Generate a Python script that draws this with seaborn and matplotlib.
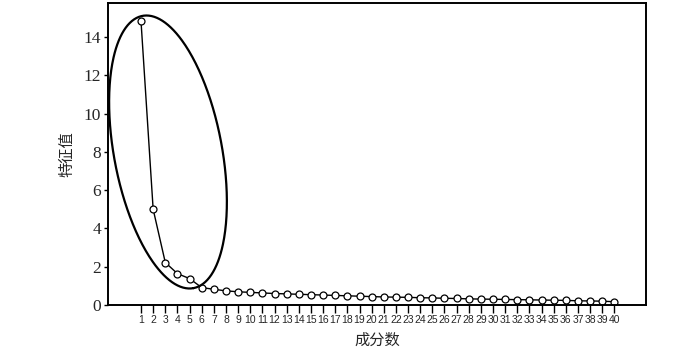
import numpy as np
import pandas as pd
import matplotlib
matplotlib.use("Agg")
import matplotlib.pyplot as plt
import seaborn as sns

components = list(range(1, 41))
eigenvalues = [14.82, 5.00, 2.22, 1.64, 1.38, 0.91, 0.82, 0.74, 0.69, 0.66,
               0.63, 0.60, 0.58, 0.56, 0.54, 0.52, 0.50, 0.48, 0.46, 0.44,
               0.42, 0.41, 0.40, 0.38, 0.37, 0.35, 0.34, 0.32, 0.31, 0.30,
               0.29, 0.28, 0.27, 0.26, 0.25, 0.24, 0.22, 0.21, 0.20, 0.17]
y_ticks = [0, 2, 4, 6, 8, 10, 12, 14]
x_label = "成分数"
y_label = "特征值"

df = pd.DataFrame({"comp": components, "eig": eigenvalues})

sns.set_theme(style="white")
plt.rcParams['font.family'] = ['Noto Sans CJK SC', 'DejaVu Sans']

fig = plt.figure(figsize=(7, 3.55), dpi=100)
ax = fig.add_axes([108/700, 1 - 305/355, (646 - 108)/700, (305 - 3)/355])

sns.lineplot(data=df, x="comp", y="eig", ax=ax, color="black", linewidth=1.0,
             marker="o", markersize=5, markerfacecolor="white",
             markeredgecolor="black", markeredgewidth=0.9)

ax.set_xlim(-1.72, 42.6)
ax.set_ylim(0, 15.78)
ax.set_xticks(components)
ax.set_xticklabels([str(c) for c in components], family=['Liberation Sans'],
                   fontsize=7.5)
ax.set_yticks(y_ticks)
ax.set_yticklabels([str(t) for t in y_ticks], family=['Liberation Serif'],
                   fontsize=12.5)
ax.tick_params(axis='x', direction='out', length=6, width=1.0, pad=1,
               bottom=True, color='black')
ax.tick_params(axis='y', direction='out', length=3, width=1.0, pad=2,
               left=True, color='black')
for s in ax.spines.values():
    s.set_color('black')
    s.set_linewidth(1.4)

ax.set_xlabel(x_label, fontsize=11, labelpad=5)
ax.set_ylabel(y_label, fontsize=11, labelpad=6)

# annotation ellipse (pixel coordinates -> figure fraction)
cx, cy = 168, 152
a, b = 138.5, 54.0
phi = np.deg2rad(10.6)
t = np.linspace(0, 2*np.pi, 400)
u = a*np.cos(t)
v = b*np.sin(t)
px = cx + u*np.sin(phi) + v*np.cos(phi)
py = cy + u*np.cos(phi) - v*np.sin(phi)
fig.lines.append(plt.Line2D(px/700, 1 - py/355, transform=fig.transFigure,
                            color='black', linewidth=1.6))

fig.savefig("out.png", dpi=100)
